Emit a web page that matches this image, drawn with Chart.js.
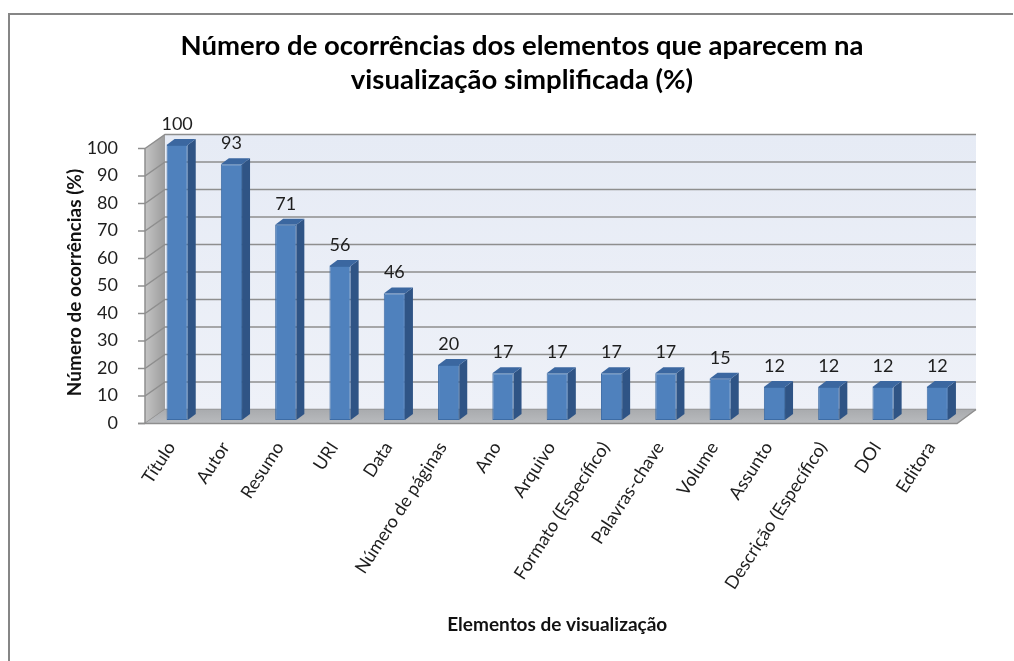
<!DOCTYPE html>
<html>
<head>
<meta charset="utf-8">
<script src="https://cdn.jsdelivr.net/npm/chart.js@4"></script>
<style>
  html, body { margin: 0; padding: 0; background: #fff; }
  #wrap { width: 1014px; height: 661px; }
</style>
</head>
<body>
<div id="wrap"><canvas id="myChart" width="1014" height="661"></canvas></div>
<script>
// data block
const elementos = [
  'Título', 'Autor', 'Resumo', 'URI', 'Data', 'Número de páginas', 'Ano',
  'Arquivo', 'Formato (Específico)', 'Palavras-chave', 'Volume', 'Assunto',
  'Descrição (Específico)', 'DOI', 'Editora'
];
const ocorrencias = [100, 93, 71, 56, 46, 20, 17, 17, 17, 17, 15, 12, 12, 12, 12];
const yTicks = [0, 10, 20, 30, 40, 50, 60, 70, 80, 90, 100];

const FONT = 'Lato, "Open Sans", sans-serif';

// frame + walls + floor, drawn behind the bars
const frame3d = {
    id: 'frame3d',
    beforeDraw(chart) {
        const { ctx } = chart;
        ctx.save();
        ctx.strokeStyle = '#868686';
        ctx.lineWidth = 2;
        ctx.beginPath();
        ctx.moveTo(1013, 14);
        ctx.lineTo(9, 14);
        ctx.lineTo(9, 661);
        ctx.stroke();
        ctx.restore();
    },
    beforeDatasetsDraw(chart) {
        const { ctx, chartArea: { left, right }, scales: { y } } = chart;
        const fL = left - 5, bL = left + 15;
        const fR = right - 7.5, bR = right + 11.5;
        const fy = v => y.getPixelForValue(v) + 3.5;
        const by = v => y.getPixelForValue(v) - 10.5;
        const top = yTicks[yTicks.length - 1], zero = yTicks[0];
        ctx.save();

        // back wall
        const g = ctx.createLinearGradient(0, by(top), 0, by(zero));
        g.addColorStop(0, '#e6ebf5');
        g.addColorStop(1, '#eef1f8');
        ctx.fillStyle = g;
        ctx.fillRect(bL, by(top), bR - bL, by(zero) - by(top));

        // left wall
        const gl = ctx.createLinearGradient(fL, 0, bL, 0);
        gl.addColorStop(0, '#c4c4c4');
        gl.addColorStop(1, '#9c9c9c');
        ctx.fillStyle = gl;
        ctx.beginPath();
        ctx.moveTo(fL, fy(top));
        ctx.lineTo(bL, by(top));
        ctx.lineTo(bL, by(zero));
        ctx.lineTo(fL, fy(zero));
        ctx.closePath();
        ctx.fill();

        // grid lines on both walls
        ctx.strokeStyle = '#8e8e8e';
        ctx.lineWidth = 1.5;
        yTicks.forEach(v => {
            ctx.beginPath();
            ctx.moveTo(fL, fy(v));
            ctx.lineTo(bL, by(v));
            ctx.lineTo(bR, by(v));
            ctx.stroke();
        });

        // floor
        const gf = ctx.createLinearGradient(0, by(zero), 0, fy(zero));
        gf.addColorStop(0, '#a9abae');
        gf.addColorStop(1, '#b9bbbe');
        ctx.fillStyle = gf;
        ctx.beginPath();
        ctx.moveTo(fL, fy(zero));
        ctx.lineTo(fR, fy(zero));
        ctx.lineTo(bR, by(zero));
        ctx.lineTo(bL, by(zero));
        ctx.closePath();
        ctx.fill();
        ctx.strokeStyle = '#8e8e8e';
        ctx.lineWidth = 1.5;
        ctx.beginPath();
        ctx.moveTo(fL - 7, fy(zero));
        ctx.lineTo(fR, fy(zero));
        ctx.lineTo(bR, by(zero));
        ctx.stroke();

        // front axis line and tick marks
        ctx.beginPath();
        ctx.moveTo(fL, fy(top));
        ctx.lineTo(fL, fy(zero));
        yTicks.forEach(v => {
            ctx.moveTo(fL - 7, fy(v));
            ctx.lineTo(fL, fy(v));
        });
        ctx.stroke();
        ctx.restore();
    },
    afterDatasetsDraw(chart) {
        const { ctx } = chart;
        const meta = chart.getDatasetMeta(0);
        const dx = 8, dy = 6;
        ctx.save();
        meta.data.forEach((bar, i) => {
            const { x, y, base, width } = bar.getProps(['x', 'y', 'base', 'width'], true);
            const l = x - width / 2, r = x + width / 2;
            // side face
            ctx.fillStyle = '#2f5485';
            ctx.beginPath();
            ctx.moveTo(r, y);
            ctx.lineTo(r + dx, y - dy);
            ctx.lineTo(r + dx, base - dy);
            ctx.lineTo(r, base);
            ctx.closePath();
            ctx.fill();
            // top face
            ctx.fillStyle = '#3b67a0';
            ctx.beginPath();
            ctx.moveTo(l, y);
            ctx.lineTo(l + dx, y - dy);
            ctx.lineTo(r + dx, y - dy);
            ctx.lineTo(r, y);
            ctx.closePath();
            ctx.fill();
            // value label
            ctx.fillStyle = '#1e1e1e';
            ctx.font = '18px ' + FONT;
            ctx.textAlign = 'center';
            ctx.textBaseline = 'middle';
            ctx.fillText(String(ocorrencias[i]), x, y - 21);
        });
        ctx.restore();
    }
};

const data = {
    labels: elementos,
    datasets: [{
        label: 'Número de ocorrências (%)',
        data: ocorrencias,
        backgroundColor: '#4f81bd',
        borderColor: '#3d6ca5',
        borderWidth: 1,
        borderSkipped: false,
        categoryPercentage: 1,
        barPercentage: 0.39
    }]
};

const config = {
    type: 'bar',
    data: data,
    options: {
        responsive: false,
        animation: false,
        layout: { padding: { left: 30, right: 0, top: 0, bottom: 25 } },
        scales: {
            x: {
                grid: { display: false },
                border: { display: false },
                ticks: {
                    minRotation: 57,
                    maxRotation: 57,
                    padding: 10,
                    labelOffset: -6,
                    color: '#1e1e1e',
                    font: { family: FONT, size: 18 }
                },
                title: {
                    display: true,
                    text: 'Elementos de visualização',
                    color: '#111',
                    font: { family: FONT, size: 19, weight: 'bold' },
                    padding: 0
                },
                afterFit(s) { s.height = 216; }
            },
            y: {
                min: 0,
                max: 100,
                grid: { display: false },
                border: { display: false },
                ticks: {
                    stepSize: 10,
                    padding: 24,
                    labelOffset: 3,
                    color: '#1e1e1e',
                    font: { family: FONT, size: 18 }
                },
                title: {
                    display: true,
                    text: 'Número de ocorrências (%)',
                    color: '#111',
                    font: { family: FONT, size: 19, weight: 'bold' },
                    padding: { top: 33, bottom: 0 }
                },
                afterFit(s) { s.width = 120; }
            },
            yR: {
                position: 'right',
                display: true,
                grid: { display: false },
                border: { display: false },
                ticks: { display: false },
                afterFit(s) { s.width = 49.5; }
            }
        },
        plugins: {
            legend: { display: false },
            tooltip: { enabled: false },
            title: {
                display: true,
                text: ['Número de ocorrências dos elementos que aparecem na', 'visualização simplificada (%)'],
                color: '#000',
                font: { family: FONT, size: 27.5, weight: 'bold', lineHeight: 34 / 27.5 },
                padding: { top: 29, bottom: 48 }
            }
        }
    },
    plugins: [frame3d]
};

const myChart = new Chart(document.getElementById('myChart'), config);
</script>
</body>
</html>
